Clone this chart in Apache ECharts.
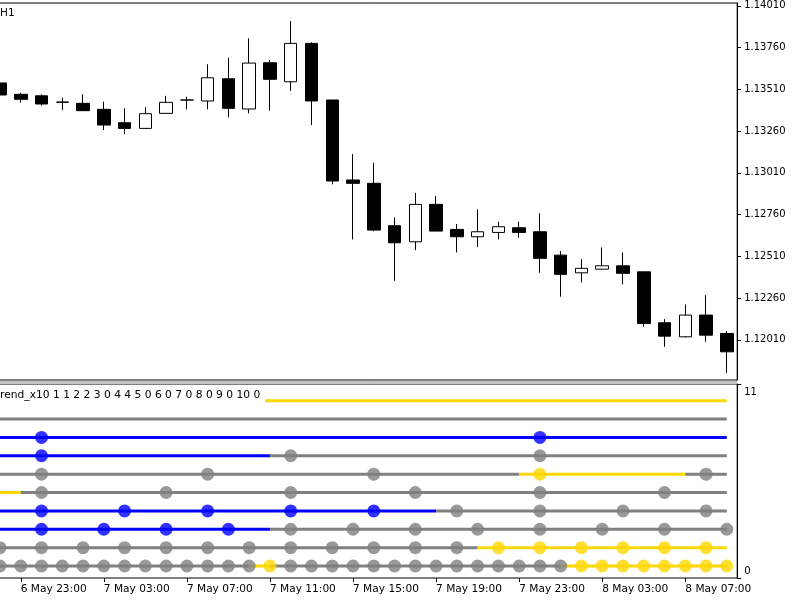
<!DOCTYPE html>
<html lang="en">
<head>
    <meta charset="UTF-8">
    <title>Trend_x10</title>
    <script src="https://cdn.jsdelivr.net/npm/echarts@6/dist/echarts.min.js"></script>
</head>
<body style="margin:0;background:#fff;">
<div id="chart" style="width:800px;height:600px;"></div>
<script>
// bar times (H1)
var categories = ['6 May 22:00','6 May 23:00',
    '7 May 00:00','7 May 01:00','7 May 02:00','7 May 03:00','7 May 04:00','7 May 05:00',
    '7 May 06:00','7 May 07:00','7 May 08:00','7 May 09:00','7 May 10:00','7 May 11:00',
    '7 May 12:00','7 May 13:00','7 May 14:00','7 May 15:00','7 May 16:00','7 May 17:00',
    '7 May 18:00','7 May 19:00','7 May 20:00','7 May 21:00','7 May 22:00','7 May 23:00',
    '8 May 00:00','8 May 01:00','8 May 02:00','8 May 03:00','8 May 04:00','8 May 05:00',
    '8 May 06:00','8 May 07:00','8 May 08:00','8 May 09:00'];

var opens  = [1.13548,1.13480,1.13471,1.13432,1.13426,1.13390,1.13310,1.13276,1.13366,1.13446,
              1.13440,1.13573,1.13392,1.13669,1.13555,1.13785,1.13446,1.12967,1.12947,1.12693,
              1.12597,1.12821,1.12671,1.12627,1.12653,1.12681,1.12657,1.12517,1.12411,1.12433,
              1.12453,1.12417,1.12112,1.12028,1.12158,1.12048];
var closes = [1.13476,1.13450,1.13422,1.13434,1.13382,1.13296,1.13276,1.13364,1.13432,1.13446,
              1.13579,1.13396,1.13667,1.13570,1.13785,1.13440,1.12961,1.12947,1.12667,1.12591,
              1.12821,1.12661,1.12627,1.12657,1.12687,1.12653,1.12498,1.12402,1.12438,1.12453,
              1.12408,1.12108,1.12032,1.12158,1.12038,1.11938];
var highs  = [1.13554,1.13489,1.13480,1.13460,1.13480,1.13436,1.13396,1.13402,1.13471,1.13466,
              1.13660,1.13699,1.13815,1.13685,1.13919,1.13791,1.13446,1.13122,1.13070,1.12743,
              1.12890,1.12871,1.12703,1.12791,1.12717,1.12717,1.12767,1.12541,1.12493,1.12563,
              1.12533,1.12417,1.12134,1.12222,1.12278,1.12062];
var lows   = [1.13434,1.13430,1.13412,1.13386,1.13380,1.13266,1.13242,1.13272,1.13364,1.13390,
              1.13390,1.13342,1.13366,1.13382,1.13500,1.13296,1.12941,1.12611,1.12660,1.12363,
              1.12547,1.12661,1.12533,1.12565,1.12611,1.12621,1.12411,1.12268,1.12354,1.12430,
              1.12342,1.12088,1.11968,1.12025,1.11998,1.11812];

var priceTicks = [1.14010,1.13760,1.13510,1.13260,1.13010,1.12760,1.12510,1.12260,1.12010];

// indicator rows, level 1 (bottom) .. 10 (top); runs = [colour, first bar, last bar]
var row1Runs  = [['g',0,12],['y',13,13],['g',14,27],['y',28,35]];
var row2Runs  = [['g',0,23],['y',24,35]];
var row3Runs  = [['b',0,13],['g',14,35]];
var row4Runs  = [['b',0,21],['g',22,35]];
var row5Runs  = [['y',0,1],['g',2,35]];
var row6Runs  = [['g',0,25],['y',26,33],['g',34,35]];
var row7Runs  = [['b',0,13],['g',14,35]];
var row8Runs  = [['b',0,35]];
var row9Runs  = [['g',0,35]];
var row10Runs = [['y',0,35]];

var row1Dots  = [0,1,2,3,4,5,6,7,8,9,10,11,12,13,14,15,16,17,18,19,20,21,22,23,24,25,26,27,28,29,30,31,32,33,34,35];
var row2Dots  = [0,2,4,6,8,10,12,14,16,18,20,22,24,26,28,30,32,34];
var row3Dots  = [2,5,8,11,14,17,20,23,26,29,32,35];
var row4Dots  = [2,6,10,14,18,22,26,30,34];
var row5Dots  = [2,8,14,20,26,32];
var row6Dots  = [2,10,18,26,34];
var row7Dots  = [2,14,26];
var row8Dots  = [2,26];
var row9Dots  = [];
var row10Dots = [];

var palette = {g:'#808080', b:'#0000ff', y:'#ffd700'};
var font = 'DejaVu Sans';

var rowRuns = [row1Runs,row2Runs,row3Runs,row4Runs,row5Runs,row6Runs,row7Runs,row8Runs,row9Runs,row10Runs];
var rowDots = [row1Dots,row2Dots,row3Dots,row4Dots,row5Dots,row6Dots,row7Dots,row8Dots,row9Dots,row10Dots];

var candleData = [];
for (var i = 0; i < categories.length; i++) {
    candleData.push([opens[i], closes[i], lows[i], highs[i]]);
}

function colorAt(runs, idx) {
    for (var k = 0; k < runs.length; k++) {
        if (idx >= runs[k][1] && idx <= runs[k][2]) return palette[runs[k][0]];
    }
    return palette.g;
}

var series = [{
    type: 'candlestick',
    xAxisIndex: 0, yAxisIndex: 0,
    data: candleData,
    barWidth: 13,
    itemStyle: {color: '#ffffff', color0: '#000000', borderColor: '#000000', borderColor0: '#000000', borderWidth: 1}
}];

rowRuns.forEach(function (runs, r) {
    var level = r + 1;
    runs.forEach(function (run) {
        var d = [];
        for (var i = 0; i < categories.length; i++) d.push(null);
        // segment i-1 -> i takes the colour of bar i
        for (var j = Math.max(0, run[1] - 1); j <= run[2]; j++) d[j] = level;
        series.push({
            type: 'line', xAxisIndex: 1, yAxisIndex: 1, data: d,
            showSymbol: false, connectNulls: false, z: 2, silent: true,
            lineStyle: {color: palette[run[0]], width: 3}
        });
    });
    var dots = rowDots[r].map(function (idx) {
        return {value: [idx, level], itemStyle: {color: colorAt(runs, idx)}};
    });
    series.push({
        type: 'scatter', xAxisIndex: 1, yAxisIndex: 1, data: dots,
        symbolSize: 13, z: 3, silent: true
    });
});

var chart = echarts.init(document.getElementById('chart'));
chart.setOption({
    animation: false,
    backgroundColor: '#ffffff',
    grid: [
        {left: -10.4, width: 747.6, top: 3, height: 377, show: true, borderColor: '#000', borderWidth: 1, backgroundColor: '#fff', outerBoundsMode: 'none'},
        {left: -10.4, width: 747.6, top: 384, height: 194, show: true, borderColor: '#000', borderWidth: 1, backgroundColor: '#fff', outerBoundsMode: 'none'}
    ],
    xAxis: [
        {type: 'category', gridIndex: 0, data: categories, boundaryGap: true,
         axisLine: {show: false}, axisTick: {show: false}, axisLabel: {show: false}, splitLine: {show: false}},
        {type: 'category', gridIndex: 1, data: categories, boundaryGap: true,
         axisLine: {show: false},
         axisTick: {show: true, alignWithLabel: true, length: 4, lineStyle: {color: '#000'},
                    interval: function (i) { return i % 4 === 1; }},
         axisLabel: {interval: function (i) { return i % 4 === 1; }, align: 'left', margin: 6,
                     fontSize: 10.6, fontFamily: font, color: '#000'},
         splitLine: {show: false}}
    ],
    yAxis: [
        {type: 'value', gridIndex: 0, position: 'right', min: 1.117693, max: 1.140268,
         splitLine: {show: false},
         axisLine: {show: true, lineStyle: {color: '#000'}},
         axisTick: {show: true, length: 4, customValues: priceTicks, lineStyle: {color: '#000'}},
         axisLabel: {customValues: priceTicks, margin: 7, fontSize: 10, fontFamily: font, color: '#000',
                     formatter: function (v) { return v.toFixed(5); }}},
        {type: 'value', gridIndex: 1, position: 'right', min: 0.347, max: 10.907,
         splitLine: {show: false},
         axisLine: {show: true, lineStyle: {color: '#000'}},
         axisTick: {show: true, length: 4, customValues: [0.347, 10.907], lineStyle: {color: '#000'}},
         axisLabel: {customValues: [0.347, 10.907], margin: 7, fontSize: 10, fontFamily: font, color: '#000',
                     formatter: function (v) { return v > 5 ? '{d|11}' : '{u|0}'; },
                     rich: {d: {padding: [16, 0, 0, 0]}, u: {padding: [0, 0, 14, 0]}}}}
    ],
    graphic: [
        {type: 'rect', shape: {x: 0, y: 381, width: 737, height: 3}, style: {fill: '#c4c4c4'}, z: 10},
        {type: 'text', left: 0, top: 8, style: {text: 'H1', font: '10.5px "DejaVu Sans"', fill: '#000'}, z: 10},
        {type: 'text', left: 0, top: 390,
         style: {text: 'rend_x10 1 1 2 2 3 0 4 4 5 0 6 0 7 0 8 0 9 0 10 0', font: '10.7px "DejaVu Sans"', fill: '#000',
                 backgroundColor: '#fff', padding: [0, 5, 2, 0]}, z: 10}
    ],
    series: series
});
</script>
</body>
</html>
